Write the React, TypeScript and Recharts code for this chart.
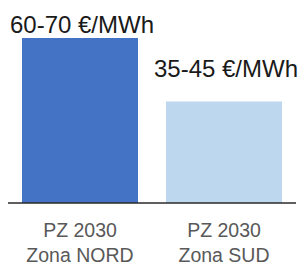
import React from "react";
import { BarChart, Bar, XAxis, YAxis, Cell, LabelList } from "recharts";

const categoryLine1 = ["PZ 2030", "PZ 2030"];
const categoryLine2 = ["Zona NORD", "Zona SUD"];
const priceMid = [65, 40];
const priceLabels = ["60-70 €/MWh", "35-45 €/MWh"];

const data = categoryLine1.map((l1, i) => ({
  cat: `${l1} ${categoryLine2[i]}`,
  mid: priceMid[i],
}));

const barColors = ["#4472C4", "#BDD7EE"];
const labelOffsets = [5, 24.5];
const FONT = "'Liberation Sans', Arial, sans-serif";

const CategoryTick = (props: any) => {
  const { x, y, index } = props;
  return (
    <g>
      <text x={x} y={y} textAnchor="middle" fill="#595959" fontSize={19.5} fontFamily={FONT}>
        <tspan x={x} dy={26}>{categoryLine1[index]}</tspan>
        <tspan x={x} dy={24.5}>{categoryLine2[index]}</tspan>
      </text>
    </g>
  );
};

const PriceLabel = (props: any) => {
  const { x, y, width, index } = props;
  return (
    <text
      x={Number(x) + Number(width) / 2 + 2}
      y={Number(y) - labelOffsets[index]}
      textAnchor="middle"
      fill="#1a1a1a"
      fontSize={24}
      fontFamily={FONT}
    >
      {priceLabels[index]}
    </text>
  );
};

export default function App() {
  return (
    <div style={{ position: "absolute", left: 0, top: 0, width: 303, height: 262, background: "#fff" }}>
      <BarChart width={303} height={262} data={data} margin={{ top: 38, right: 7, bottom: 0, left: 8 }}>
        <XAxis
          dataKey="cat"
          height={59}
          tickLine={false}
          axisLine={{ stroke: "#2a2a2a", strokeWidth: 1.3 }}
          tick={<CategoryTick />}
          interval={0}
        />
        <YAxis hide domain={[0, 65]} />
        <Bar dataKey="mid" barSize={116} isAnimationActive={false}>
          {data.map((_, i) => (
            <Cell key={i} fill={barColors[i]} />
          ))}
          <LabelList dataKey="mid" content={<PriceLabel />} />
        </Bar>
      </BarChart>
    </div>
  );
}
